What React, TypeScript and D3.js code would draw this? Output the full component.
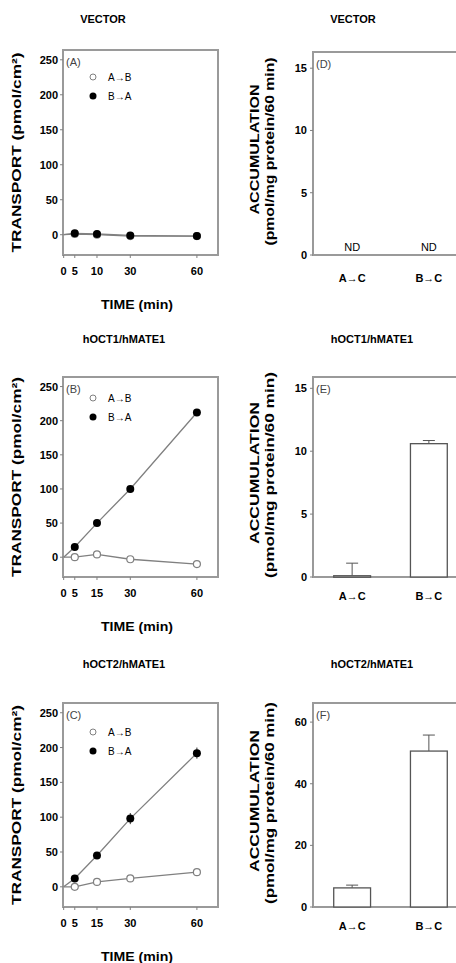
import * as d3 from 'd3';

// Time course (min) and transport (pmol/cm²)
const TIME = [0, 5, 15, 30, 60];
const TIME_TICKS = [0, 5, 15, 30, 60];
const TIME_LABELS_A = ['0', '5', '10', '30', '60'];
const TIME_LABELS = ['0', '5', '15', '30', '60'];
const TRANSPORT_TICKS = [0, 50, 100, 150, 200, 250];

const VECTOR_AB = [0, 1, 0, -2, -2];
const VECTOR_BA = [0, 2, 1, -1, -2];
const OCT1_AB = [0, 0, 4, -3, -10];
const OCT1_BA = [0, 15, 50, 100, 212];
const OCT2_AB = [0, 0, 7, 12, 21];
const OCT2_BA = [0, 12, 45, 98, 192];
const OCT2_BA_ERR = [0, 2, 3, 8, 8];

// Accumulation (pmol/mg protein/60 min)
const BAR_CATS = ['A→C', 'B→C'];
const OCT1_ACC = [0.1, 10.6];
const OCT1_ACC_ERR = [1.0, 0.25];
const OCT2_ACC = [6.2, 50.6];
const OCT2_ACC_ERR = [0.9, 5.2];
const ACC_TICKS_15 = [0, 5, 10, 15];
const ACC_TICKS_60 = [0, 20, 40, 60];

const FONT = '"Liberation Sans", Arial, Helvetica, sans-serif';
const BOX = '#9a9a9a';
const LINE = '#808080';

type LineProps = {
  top: number;
  bottom: number;
  title: string;
  titleX: number;
  titleY: number;
  tag: string;
  ab: number[];
  ba: number[];
  baErr?: number[];
  xLabels: string[];
  legendY: number;
};

function LinePanel({ top, bottom, title, titleX, titleY, tag, ab, ba, baErr, xLabels, legendY }: LineProps) {
  const left = 63;
  const right = 218;
  const x = d3.scaleLinear().domain([-0.3, 69.5]).range([left, right]);
  const y = d3.scaleLinear().domain([-29, 264]).range([bottom, top]);
  const line = d3
    .line<number>()
    .x((_, i) => x(TIME[i]))
    .y((d) => y(d));
  const mid = (top + bottom) / 2;

  return (
    <g>
      <text x={titleX} y={titleY} textAnchor="middle" fontSize={11} fontWeight="bold">
        {title}
      </text>
      <rect x={left} y={top} width={right - left} height={bottom - top} fill="none" stroke={BOX} strokeWidth={2} />
      {TRANSPORT_TICKS.map((t) => (
        <g key={t}>
          <line x1={left - 3} x2={left} y1={y(t)} y2={y(t)} stroke={LINE} />
          <text x={left - 5} y={y(t) + 4} textAnchor="end" fontSize={11} fontWeight="bold">
            {t}
          </text>
        </g>
      ))}
      {TIME_TICKS.map((t, i) => (
        <g key={t}>
          <line x1={x(t)} x2={x(t)} y1={bottom} y2={bottom + 3} stroke={LINE} />
          <text x={x(t)} y={bottom + 20} textAnchor="middle" fontSize={11} fontWeight="bold">
            {xLabels[i]}
          </text>
        </g>
      ))}
      <text x={137} y={bottom + 54} textAnchor="middle" fontSize={13} fontWeight="bold" textLength={72} lengthAdjust="spacingAndGlyphs">
        TIME (min)
      </text>
      <text
        transform={`translate(21,${mid}) rotate(-90)`}
        textAnchor="middle"
        fontSize={12}
        fontWeight="bold"
        textLength={200}
        lengthAdjust="spacingAndGlyphs"
      >
        TRANSPORT (pmol/cm²)
      </text>
      <text x={left + 3} y={top + 16} fontSize={11} fill="#444">
        {tag}
      </text>
      <circle cx={93} cy={top + legendY} r={3} fill="#fff" stroke={LINE} />
      <text x={108} y={top + legendY + 4} fontSize={10}>A→B</text>
      <circle cx={93} cy={top + legendY + 19} r={3.5} fill="#000" />
      <text x={108} y={top + legendY + 23} fontSize={10}>B→A</text>

      <path d={line(ab) ?? ''} fill="none" stroke={LINE} strokeWidth={1.3} />
      <path d={line(ba) ?? ''} fill="none" stroke={LINE} strokeWidth={1.3} />
      {ab.map((v, i) =>
        i === 0 ? null : (
          <circle key={i} cx={x(TIME[i])} cy={y(v)} r={3.5} fill="#fff" stroke={LINE} strokeWidth={1.2} />
        ),
      )}
      {ba.map((v, i) =>
        i === 0 ? null : (
          <g key={i}>
            {baErr && baErr[i] > 0 && (
              <line x1={x(TIME[i])} x2={x(TIME[i])} y1={y(v - baErr[i])} y2={y(v + baErr[i])} stroke="#333" />
            )}
            <circle cx={x(TIME[i])} cy={y(v)} r={4} fill="#000" />
          </g>
        ),
      )}
    </g>
  );
}

type BarProps = {
  top: number;
  bottom: number;
  title: string;
  titleX: number;
  titleY: number;
  tag: string;
  values: (number | null)[];
  errs: number[];
  ticks: number[];
  yMax: number;
  catGap: number;
  labelLen: number;
  unitLen: number;
};

function BarPanel({ top, bottom, title, titleX, titleY, tag, values, errs, ticks, yMax, catGap, labelLen, unitLen }: BarProps) {
  const left = 313;
  const x = d3.scaleBand().domain(BAR_CATS).range([left, 468]).paddingInner(0.52).paddingOuter(0.27);
  const y = d3.scaleLinear().domain([0, yMax]).range([bottom, top]);
  const mid = (top + bottom) / 2;
  const bw = x.bandwidth();

  return (
    <g>
      <text x={titleX} y={titleY} textAnchor="middle" fontSize={11} fontWeight="bold">
        {title}
      </text>
      <rect x={left} y={top} width={200} height={bottom - top} fill="none" stroke={BOX} strokeWidth={2} />
      {ticks.map((t) => (
        <g key={t}>
          <line x1={left - 3} x2={left} y1={y(t)} y2={y(t)} stroke={LINE} />
          <text x={left - 6} y={y(t) + 4} textAnchor="end" fontSize={11} fontWeight="bold">
            {t}
          </text>
        </g>
      ))}
      {BAR_CATS.map((c, i) => {
        const cx = (x(c) ?? 0) + bw / 2;
        const v = values[i];
        return (
          <g key={c}>
            <text x={cx} y={bottom + catGap} textAnchor="middle" fontSize={11} fontWeight="bold">
              {c}
            </text>
            {v === null ? (
              <text x={cx} y={bottom - 4} textAnchor="middle" fontSize={11}>ND</text>
            ) : (
              <g>
                <line x1={cx} x2={cx} y1={y(v)} y2={y(v + errs[i])} stroke="#555" />
                <line x1={cx - 6} x2={cx + 6} y1={y(v + errs[i])} y2={y(v + errs[i])} stroke="#555" />
                <rect
                  x={x(c)}
                  y={y(v)}
                  width={bw}
                  height={Math.max(bottom - y(v), 1.5)}
                  fill="#fff"
                  stroke="#555"
                  strokeWidth={1.3}
                />
              </g>
            )}
          </g>
        );
      })}
      <text x={left + 3} y={top + 16} fontSize={11} fill="#444">
        {tag}
      </text>
      <text
        transform={`translate(259,${mid - 4}) rotate(-90)`}
        textAnchor="middle"
        fontSize={12}
        fontWeight="bold"
        textLength={labelLen}
        lengthAdjust="spacingAndGlyphs"
      >
        ACCUMULATION
      </text>
      <text
        transform={`translate(274,${mid - 2}) rotate(-90)`}
        textAnchor="middle"
        fontSize={12}
        fontWeight="bold"
        textLength={unitLen}
        lengthAdjust="spacingAndGlyphs"
      >
        (pmol/mg protein/60 min)
      </text>
    </g>
  );
}

export default function App() {
  return (
    <svg
      width={456}
      height={963}
      style={{ position: 'absolute', left: 0, top: 0, fontFamily: FONT, background: '#fff' }}
    >
      <LinePanel top={50} bottom={255} title="VECTOR" titleX={103} titleY={23} tag="(A)" ab={VECTOR_AB} ba={VECTOR_BA} xLabels={TIME_LABELS_A} legendY={27} />
      <LinePanel top={377} bottom={577} title="hOCT1/hMATE1" titleX={124} titleY={343} tag="(B)" ab={OCT1_AB} ba={OCT1_BA} xLabels={TIME_LABELS} legendY={21} />
      <LinePanel top={703} bottom={907} title="hOCT2/hMATE1" titleX={124} titleY={668} tag="(C)" ab={OCT2_AB} ba={OCT2_BA} baErr={OCT2_BA_ERR} xLabels={TIME_LABELS} legendY={29} />

      <BarPanel top={52} bottom={255} title="VECTOR" titleX={353} titleY={23} tag="(D)" values={[null, null]} errs={[0, 0]} ticks={ACC_TICKS_15} yMax={16.3} catGap={27} labelLen={130} unitLen={188} />
      <BarPanel top={377} bottom={577} title="hOCT1/hMATE1" titleX={372} titleY={343} tag="(E)" values={OCT1_ACC} errs={OCT1_ACC_ERR} ticks={ACC_TICKS_15} yMax={15.9} catGap={23} labelLen={142} unitLen={206} />
      <BarPanel top={703} bottom={907} title="hOCT2/hMATE1" titleX={372} titleY={668} tag="(F)" values={OCT2_ACC} errs={OCT2_ACC_ERR} ticks={ACC_TICKS_60} yMax={66.2} catGap={23} labelLen={142} unitLen={202} />
    </svg>
  );
}
